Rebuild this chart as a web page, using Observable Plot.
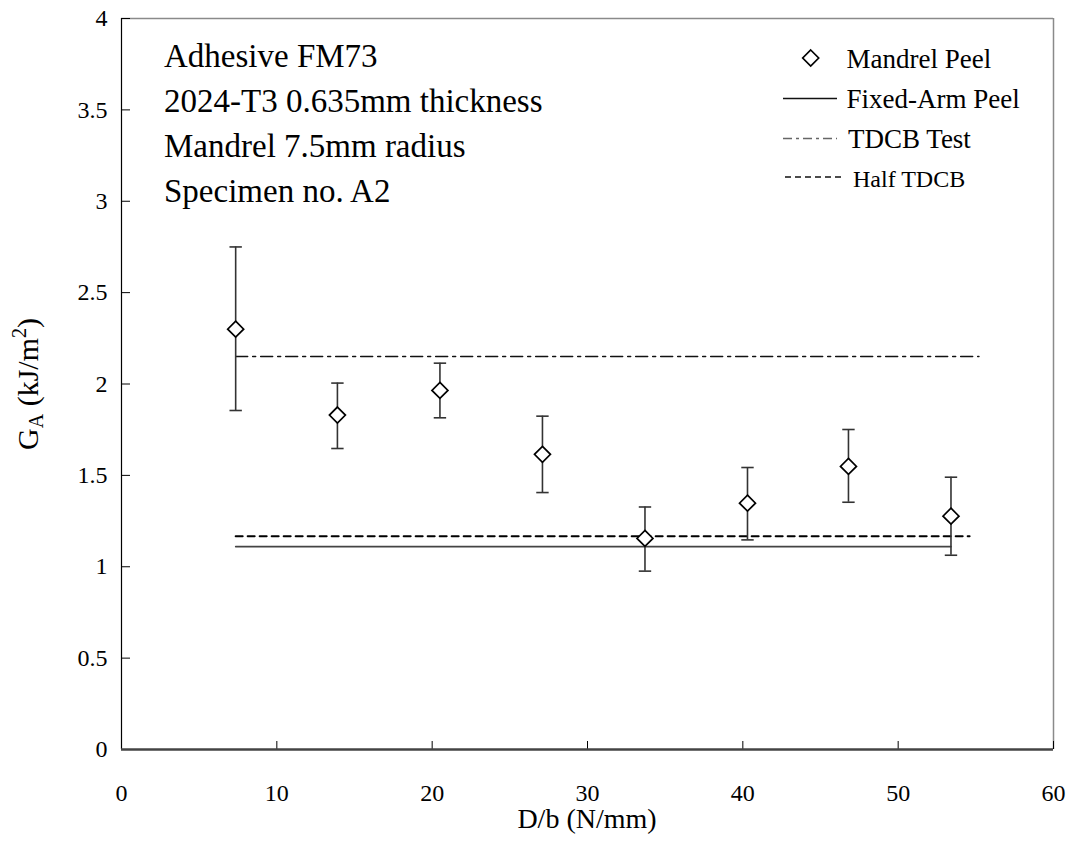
<!DOCTYPE html>
<html><head><meta charset="utf-8">
<script src="https://cdn.jsdelivr.net/npm/d3@7"></script>
<script src="https://cdn.jsdelivr.net/npm/@observablehq/plot@0.6"></script>
<style>
body{margin:0;background:#fff;}
#wrap{position:relative;width:1072px;height:861px;font-family:"Liberation Serif","Times New Roman",serif;}
#wrap > svg{position:absolute;left:0;top:0;}
</style></head><body><div id="wrap"></div>
<script>
// Mandrel peel data
const loadPerWidth = [7.35, 13.9, 20.5, 27.1, 33.7, 40.3, 46.8, 53.4];
const gaMean  = [2.30, 1.83, 1.965, 1.615, 1.155, 1.348, 1.549, 1.277];
const gaUpper = [2.75, 2.005, 2.114, 1.824, 1.327, 1.543, 1.751, 1.49];
const gaLower = [1.855, 1.647, 1.815, 1.406, 0.976, 1.147, 1.353, 1.063];
// reference lines
const fixedArmX = [7.35, 53.4], fixedArmY = [1.11, 1.11];
const tdcbX = [7.35, 55.2], tdcbY = [2.15, 2.15];
const halfTdcbX = [7.35, 54.6], halfTdcbY = [1.167, 1.167];
// ticks
const xTicks = [0, 10, 20, 30, 40, 50, 60];
const yTicks = [0, 0.5, 1, 1.5, 2, 2.5, 3, 3.5, 4];
// texts
const annotationLines = ["Adhesive FM73", "2024-T3 0.635mm thickness", "Mandrel 7.5mm radius", "Specimen no. A2"];
const legendLabels = ["Mandrel Peel", "Fixed-Arm Peel", "TDCB Test", "Half TDCB"];
const xTitle = "D/b (N/mm)";

const serif = "Liberation Serif, Times New Roman, serif";
const pts = loadPerWidth.map((x, i) => ({x, y: gaMean[i], hi: gaUpper[i], lo: gaLower[i]}));
const line = (xs, ys) => xs.map((x, i) => ({x, y: ys[i]}));
const cap = {draw(ctx, size) { const r = Math.sqrt(size / Math.PI); ctx.moveTo(-r, 0); ctx.lineTo(r, 0); }};

const chart = Plot.plot({
  width: 1072, height: 861,
  marginLeft: 121, marginRight: 19, marginTop: 18, marginBottom: 112,
  style: {fontFamily: serif, fontSize: "24px", color: "#000", background: "transparent"},
  x: {domain: [0, 60]},
  y: {domain: [0, 4]},
  marks: [
    Plot.ruleX([60], {stroke: "#8a8a8a", strokeWidth: 1.5}),
    Plot.ruleY([4], {stroke: "#8a8a8a", strokeWidth: 1.5}),
    Plot.axisX({ticks: xTicks, tickSize: -8, tickPadding: 42, label: null, tickFormat: d => String(d), fontSize: 24}),
    Plot.axisY({ticks: yTicks, tickSize: -9, tickPadding: 23, label: null, tickFormat: d => String(d), fontSize: 24}),
    Plot.ruleX([0], {stroke: "#000", strokeWidth: 1.2}),
    Plot.ruleY([0], {stroke: "#444", strokeWidth: 2.3}),
    Plot.line(line(tdcbX, tdcbY), {x: "x", y: "y", stroke: "#111", strokeWidth: 1.5, strokeDasharray: "12,5,3,5"}),
    Plot.line(line(halfTdcbX, halfTdcbY), {x: "x", y: "y", stroke: "#000", strokeWidth: 2, strokeDasharray: "7,5"}),
    Plot.line(line(fixedArmX, fixedArmY), {x: "x", y: "y", stroke: "#444", strokeWidth: 1.6}),
    Plot.ruleX(pts, {x: "x", y1: "lo", y2: "hi", stroke: "#333", strokeWidth: 1.6}),
    Plot.dot(pts, {x: "x", y: "hi", symbol: cap, r: 6.2, stroke: "#333", strokeWidth: 1.6, fill: "none"}),
    Plot.dot(pts, {x: "x", y: "lo", symbol: cap, r: 6.2, stroke: "#333", strokeWidth: 1.6, fill: "none"}),
    Plot.dot(pts, {x: "x", y: "y", symbol: "diamond2", r: 7.2, stroke: "#000", strokeWidth: 1.7, fill: "#fff"})
  ]
});
const wrap = document.getElementById("wrap");
wrap.appendChild(chart);
d3.select(chart).selectAll("text").style("font-variant", "normal");

// overlay: annotation, legend, axis titles
const ov = d3.select(wrap).append("svg").attr("width", 1072).attr("height", 861)
  .style("font-family", serif).attr("fill", "#000");

ov.append("g").selectAll("text").data(annotationLines).join("text")
  .attr("x", 164).attr("y", (d, i) => 66.5 + 45 * i).attr("font-size", 33).text(d => d);

const lg = ov.append("g");
const lgBase = [68, 108, 148, 186.5];
const lgX = [846.5, 846.5, 848, 853];
const lgSize = [27, 27, 27, 24];
lg.selectAll("text").data(legendLabels).join("text")
  .attr("x", (d, i) => lgX[i]).attr("y", (d, i) => lgBase[i]).attr("font-size", (d, i) => lgSize[i]).text(d => d);
lg.append("path").attr("d", d3.symbol(d3.symbolDiamond2, Math.PI * 7.2 * 7.2)()).attr("transform", "translate(810.7,58)")
  .attr("fill", "#fff").attr("stroke", "#000").attr("stroke-width", 1.7);
lg.append("line").attr("x1", 783).attr("x2", 837).attr("y1", 98.5).attr("y2", 98.5).attr("stroke", "#111").attr("stroke-width", 1.6);
lg.append("line").attr("x1", 783).attr("x2", 837).attr("y1", 138.5).attr("y2", 138.5).attr("stroke", "#666").attr("stroke-width", 1.5).attr("stroke-dasharray", "9,4,3,4");
lg.append("line").attr("x1", 785).attr("x2", 843).attr("y1", 177).attr("y2", 177).attr("stroke", "#111").attr("stroke-width", 1.6).attr("stroke-dasharray", "6,4");

ov.append("text").attr("x", 587).attr("y", 828).attr("text-anchor", "middle").attr("font-size", 28).text(xTitle);

const yl = ov.append("text").attr("transform", "translate(38,384) rotate(-90)").attr("text-anchor", "middle").attr("font-size", 30);
yl.append("tspan").text("G");
yl.append("tspan").attr("font-size", 20).attr("dy", 5).text("A");
yl.append("tspan").attr("dy", -5).text(" (kJ/m");
yl.append("tspan").attr("font-size", 20).attr("dy", -12).text("2");
yl.append("tspan").attr("dy", 12).text(")");
</script></body></html>
